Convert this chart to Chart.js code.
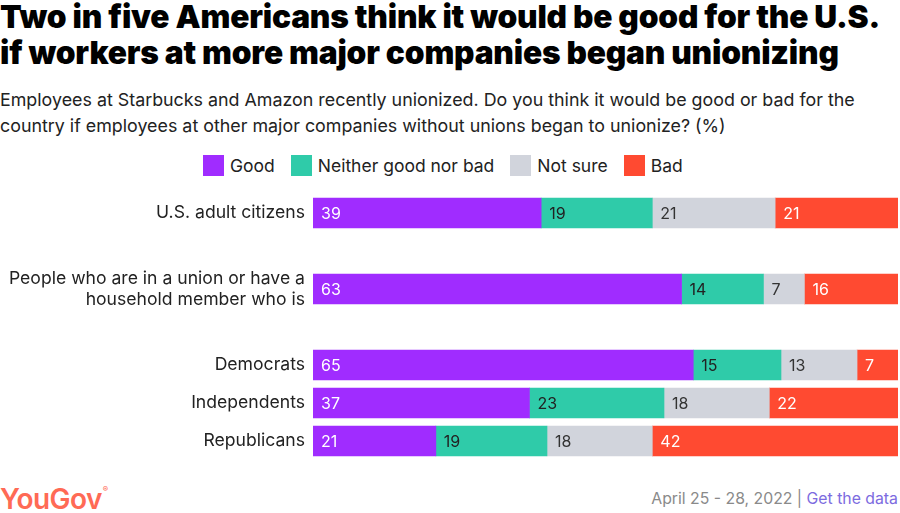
<!DOCTYPE html>
<html lang="en">
<head>
    <meta charset="UTF-8">
    <title>Unionizing</title>
    <style>
        body { margin: 0; width: 900px; height: 513px; background: #fff; font-family: Inter, "Noto Sans", sans-serif; position: relative; overflow: hidden; }
        h1 { position: absolute; left: 0; top: -1px; margin: 0; font-size: 31.7px; line-height: 36px; font-weight: 900; color: #000; letter-spacing: -0.2px; width: 900px; white-space: nowrap; }
        .sub { position: absolute; left: 0; top: 87px; font-size: 17.85px; line-height: 26px; color: #222; width: 880px; white-space: nowrap; }
        .legend { position: absolute; top: 155px; left: 203px; display: flex; font-size: 17.5px; color: #222; }
        .legend span { display: flex; align-items: center; margin-right: 16px; }
        .legend i { display: inline-block; width: 21px; height: 21px; margin-right: 6px; }
        #wrap { position: absolute; left: 0; top: 194px; width: 900px; height: 266px; }
        .logo { position: absolute; left: 0; top: 482px; font-size: 28px; font-weight: 600; color: #FF6A55; letter-spacing: -0.6px; }
        .logo sup { font-size: 8px; vertical-align: 17px; margin-left: 1px; }
        .foot { position: absolute; right: 2px; top: 489px; font-size: 15.8px; color: #8a8a8a; }
        .foot a { color: #7C6BE0; text-decoration: none; }
    </style>
</head>
<body>
    <h1>Two in five Americans think it would be good for the U.S.<br>if workers at more major companies began unionizing</h1>
    <div class="sub">Employees at Starbucks and Amazon recently unionized. Do you think it would be good or bad for the<br>country if employees at other major companies without unions began to unionize? (%)</div>
    <div class="legend" id="legend"></div>
    <div id="wrap"><canvas id="chart"></canvas></div>
    <div class="logo">YouGov<sup>®</sup></div>
    <div class="foot">April 25 - 28, 2022 | <a href="#">Get the data</a></div>

    <script src="https://cdn.jsdelivr.net/npm/chart.js"></script>
    <script>
        // rows, empty strings are spacer rows
        const categories = [
            "U.S. adult citizens",
            "",
            ["People who are in a union or have a", "household member who is"],
            "",
            "Democrats",
            "Independents",
            "Republicans"
        ];
        const seriesNames = ["Good", "Neither good nor bad", "Not sure", "Bad"];
        const good    = [39, null, 63, null, 65, 37, 21];
        const neither = [19, null, 14, null, 15, 23, 19];
        const notSure = [21, null, 7, null, 13, 18, 18];
        const bad     = [21, null, 16, null, 7, 22, 42];

        const colors = ["#A02CFF", "#2FCBA9", "#D1D4DC", "#FF4A31"];
        const labelColors = ["#fff", "#222", "#333", "#fff"];
        const allSeries = [good, neither, notSure, bad];

        // html legend
        const legend = document.getElementById("legend");
        seriesNames.forEach((name, i) => {
            legend.innerHTML += '<span><i style="background:' + colors[i] + '"></i>' + name + '</span>';
        });

        // value labels at the left edge of each segment
        const barLabels = {
            id: "barLabels",
            afterDatasetsDraw(chart) {
                const ctx = chart.ctx;
                ctx.save();
                ctx.font = "16px Inter, 'Noto Sans', sans-serif";
                ctx.textBaseline = "middle";
                ctx.textAlign = "left";
                chart.data.datasets.forEach((ds, di) => {
                    chart.getDatasetMeta(di).data.forEach((bar, i) => {
                        const v = ds.data[i];
                        if (v == null) return;
                        ctx.fillStyle = labelColors[di];
                        ctx.fillText(v, bar.base + 8, bar.y + 1);
                    });
                });
                ctx.restore();
            }
        };

        new Chart(document.getElementById("chart"), {
            type: "bar",
            data: {
                labels: categories,
                datasets: allSeries.map((d, i) => ({
                    label: seriesNames[i],
                    data: d,
                    backgroundColor: colors[i],
                    borderWidth: 0,
                    barThickness: 30
                }))
            },
            options: {
                indexAxis: "y",
                responsive: true,
                maintainAspectRatio: false,
                animation: false,
                layout: { padding: { right: 2 } },
                plugins: { legend: { display: false }, tooltip: { enabled: false } },
                scales: {
                    x: { stacked: true, min: 0, max: 100, display: false },
                    y: {
                        stacked: true,
                        grid: { display: false, drawTicks: false },
                        border: { display: false },
                        afterFit: s => { s.width = 313; s.paddingTop = 0; s.paddingBottom = 0; },
                        ticks: {
                            autoSkip: false,
                            padding: 8,
                            color: "#222",
                            font: { family: "Inter, 'Noto Sans', sans-serif", size: 17.6 }
                        }
                    }
                }
            },
            plugins: [barLabels]
        });
    </script>
</body>
</html>
